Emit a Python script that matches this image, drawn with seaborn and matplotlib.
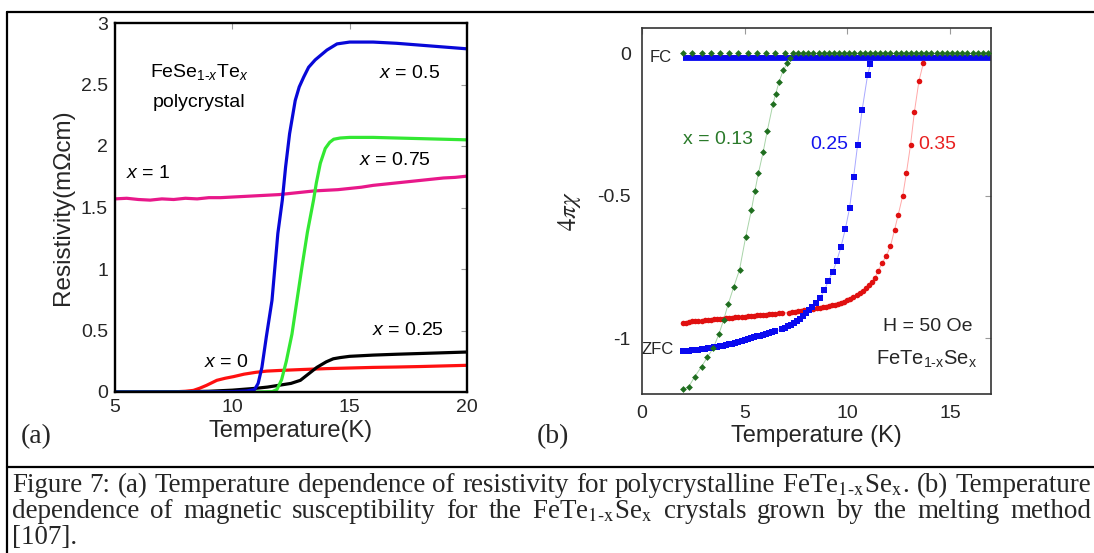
import numpy as np
import pandas as pd
import matplotlib
matplotlib.use("Agg")
import matplotlib.pyplot as plt
from matplotlib.lines import Line2D
import seaborn as sns

# ---------------- Panel (a): resistivity of FeSe1-xTex polycrystals ----------------
a_T_x05 = [5, 8, 10, 10.6, 10.95, 11.1, 11.26, 11.45, 11.69, 11.94, 12.13, 12.27, 12.44, 12.68,
           12.85, 13.04, 13.25, 13.53, 14.03, 14.46, 15, 16, 17, 18, 19, 20]
a_R_x05 = [0, 0, 0.003, 0.008, 0.02, 0.07, 0.2, 0.45, 0.745, 1.29, 1.56, 1.83, 2.1, 2.37,
           2.48, 2.56, 2.64, 2.70, 2.78, 2.83, 2.845, 2.845, 2.835, 2.82, 2.805, 2.79]

a_T_x075 = [5, 8, 11, 11.7, 11.9, 12.1, 12.3, 12.54, 12.75, 12.97, 13.2, 13.46, 13.58, 13.75,
            13.96, 14.15, 14.32, 14.6, 15, 16, 17, 18, 19, 20]
a_R_x075 = [0, 0, 0, 0.003, 0.02, 0.1, 0.25, 0.47, 0.74, 1.02, 1.3, 1.56, 1.7, 1.86,
            1.98, 2.03, 2.055, 2.065, 2.07, 2.07, 2.065, 2.06, 2.055, 2.05]

a_T_x1 = [5, 5.5, 6, 6.5, 7, 7.5, 8, 8.5, 9, 9.5, 10, 10.5, 11, 11.5, 12, 12.5, 13, 13.5,
          14, 14.5, 15, 15.5, 16, 16.5, 17, 17.5, 18, 18.5, 19, 19.5, 20]
a_R_x1 = [1.57, 1.575, 1.565, 1.56, 1.57, 1.565, 1.575, 1.57, 1.58, 1.58, 1.585, 1.59, 1.595,
          1.6, 1.605, 1.615, 1.625, 1.635, 1.64, 1.645, 1.655, 1.665, 1.68, 1.69, 1.7, 1.71,
          1.72, 1.73, 1.74, 1.745, 1.755]

a_T_x0 = [5, 7, 7.6, 8.0, 8.34, 8.6, 8.9, 9.34, 9.7, 10.05, 10.5, 11, 11.47, 12, 13, 14, 15,
          16, 17, 18, 19, 20]
a_R_x0 = [0, 0, 0.002, 0.006, 0.013, 0.03, 0.054, 0.095, 0.112, 0.125, 0.145, 0.16, 0.17,
          0.175, 0.183, 0.19, 0.195, 0.2, 0.203, 0.207, 0.212, 0.217]

a_T_x025 = [5, 8, 9, 10, 11, 11.5, 12, 12.5, 12.9, 13.2, 13.6, 14.0, 14.3, 14.6, 15, 16, 17,
            18, 19, 20]
a_R_x025 = [0, 0.002, 0.006, 0.015, 0.03, 0.04, 0.055, 0.07, 0.095, 0.14, 0.2, 0.245, 0.27,
            0.28, 0.29, 0.3, 0.307, 0.313, 0.319, 0.325]

a_xticks = [5, 10, 15, 20]
a_yticks = [0, 0.5, 1, 1.5, 2, 2.5, 3]
a_yticklabels = ["0", "0.5", "1", "1.5", "2", "2.5", "3"]

# ---------------- Panel (b): susceptibility of FeTe1-xSex crystals ----------------
b_T_g_zfc = [2.0, 2.28, 2.57, 2.9, 3.18, 3.47, 3.75, 3.98, 4.2, 4.47, 4.75, 5.05, 5.33, 5.5,
             5.67, 5.9, 6.1, 6.38, 6.51, 6.68, 6.89, 7.08, 7.2]
b_C_g_zfc = [-1.18, -1.17, -1.135, -1.10, -1.067, -1.035, -0.985, -0.935, -0.88, -0.82, -0.76,
             -0.645, -0.55, -0.483, -0.421, -0.347, -0.273, -0.178, -0.143, -0.099, -0.058,
             -0.035, -0.018]
b_T_g_fc = [2.0, 2.45, 2.9, 3.35, 3.8, 4.25, 4.7, 5.15, 5.6, 6.05, 6.5, 6.95,
            7.35, 7.6, 7.85, 8.1, 8.35, 8.6, 8.85, 9.1, 9.35, 9.6, 9.85, 10.1, 10.35, 10.6,
            10.85, 11.1, 11.35, 11.6, 11.85, 12.1, 12.35, 12.6, 12.85, 13.1, 13.35, 13.6,
            13.85, 14.1, 14.35, 14.6, 14.85, 15.1, 15.35, 15.6, 15.85, 16.1, 16.35, 16.6, 16.85]
b_C_g_fc = [0.0, 0.0, 0.0, 0.0, 0.0, 0.0, 0.0, 0.0, 0.0, 0.0, 0.0, 0.0,
            0.0, 0.0, 0.0, 0.0, 0.0, 0.0, 0.0, 0.0, 0.0, 0.0, 0.0, 0.0, 0.0, 0.0,
            0.0, 0.0, 0.0, 0.0, 0.0, 0.0, 0.0, 0.0, 0.0, 0.0, 0.0, 0.0,
            0.0, 0.0, 0.0, 0.0, 0.0, 0.0, 0.0, 0.0, 0.0, 0.0, 0.0, 0.0, 0.0]

b_T_b_zfc = [2.0, 2.15, 2.3, 2.45, 2.6, 2.75, 2.9, 3.05, 3.2, 3.35, 3.5, 3.65, 3.8, 3.95, 4.1,
             4.25, 4.4, 4.55, 4.7, 4.85, 5.0, 5.15, 5.3, 5.45, 5.6, 5.75, 5.9, 6.05, 6.2, 6.35,
             6.5, 6.8, 6.95, 7.1, 7.25, 7.4, 7.55, 7.7, 7.85, 8.0, 8.15, 8.3, 8.47, 8.68, 8.88,
             9.07, 9.3, 9.48, 9.69, 9.9, 10.11, 10.31, 10.5, 10.72, 10.99, 11.12]
b_C_b_zfc = [-1.045, -1.045, -1.044, -1.043, -1.042, -1.041, -1.039, -1.038, -1.036, -1.034,
             -1.032, -1.030, -1.028, -1.026, -1.024, -1.021, -1.019, -1.016, -1.013, -1.010,
             -1.006, -1.003, -1.000, -0.997, -0.994, -0.991, -0.988, -0.985, -0.982, -0.979,
             -0.975, -0.968, -0.964, -0.959, -0.953, -0.946, -0.939, -0.931, -0.922, -0.912,
             -0.902, -0.89, -0.876, -0.858, -0.832, -0.80, -0.766, -0.73, -0.68, -0.618,
             -0.544, -0.433, -0.323, -0.2, -0.076, -0.039]
b_T_b_fc = [2.0, 17.0]
b_C_b_fc = [-0.015, -0.015]

b_T_r_zfc = [2.0, 2.15, 2.3, 2.45, 2.6, 2.75, 2.9, 3.05, 3.2, 3.35, 3.5, 3.65, 3.8, 3.95, 4.1,
             4.25, 4.4, 4.55, 4.7, 4.85, 5.0, 5.15, 5.3, 5.45, 5.6, 5.75, 5.9, 6.05, 6.2, 6.35,
             6.5, 6.65, 6.8, 7.15, 7.3, 7.45, 7.6, 7.75, 7.9, 8.05, 8.2, 8.35, 8.5, 8.65, 8.8,
             8.95, 9.1, 9.25, 9.4, 9.55, 9.7, 9.85, 10.0, 10.15, 10.3, 10.45, 10.6, 10.75,
             10.9, 11.05, 11.2, 11.35, 11.5, 11.69, 11.9, 12.1, 12.3, 12.48, 12.7, 12.88,
             13.08, 13.27, 13.49, 13.71]
b_C_r_zfc = [-0.947, -0.945, -0.943, -0.941, -0.940, -0.939, -0.938, -0.937, -0.936, -0.935,
             -0.934, -0.933, -0.932, -0.931, -0.930, -0.929, -0.928, -0.927, -0.926, -0.925,
             -0.924, -0.923, -0.922, -0.921, -0.920, -0.919, -0.918, -0.917, -0.916, -0.915,
             -0.914, -0.913, -0.912,
             -0.910, -0.909, -0.908, -0.906, -0.904, -0.902, -0.900, -0.899, -0.897, -0.895,
             -0.893, -0.891, -0.889, -0.887, -0.885, -0.882, -0.879, -0.876, -0.872, -0.867,
             -0.862, -0.856, -0.849, -0.841, -0.833, -0.824, -0.814, -0.802, -0.788, -0.765,
             -0.737, -0.711, -0.678, -0.62, -0.567, -0.50, -0.42, -0.322, -0.205, -0.097,
             -0.033]
b_T_r_fc = [2.0, 17.0]
b_C_r_fc = [-0.013, -0.013]

b_xticks = [0, 5, 10, 15]
b_yticks = [0, -0.5, -1]
b_yticklabels = ["0", "-0.5", "-1"]

caption_lines = [
    ["Figure", "7:", "(a)", "Temperature", "dependence", "of", "resistivity", "for",
     "polycrystalline", r"FeTe$_{\mathrm{1\text{-}x}}$Se$_{\mathrm{x}}$.", "(b)", "Temperature"],
    ["dependence", "of", "magnetic", "susceptibility", "for", "the",
     r"FeTe$_{\mathrm{1\text{-}x}}$Se$_{\mathrm{x}}$", "crystals", "grown", "by", "the",
     "melting", "method"],
    ["[107]."],
]

# ---------------- style ----------------
sns.set_style("white")
plt.rcParams['font.family'] = ['Liberation Sans', 'DejaVu Sans']
plt.rcParams['mathtext.fontset'] = 'custom'
plt.rcParams['mathtext.rm'] = 'Liberation Sans'
plt.rcParams['mathtext.it'] = 'Liberation Sans:italic'
plt.rcParams['mathtext.bf'] = 'Liberation Sans:bold'
plt.rcParams['axes.unicode_minus'] = False

W, H = 1094, 553
fig = plt.figure(figsize=(W / 100, H / 100), dpi=100)
fig.patch.set_facecolor("white")

axA = fig.add_axes([115 / W, 1 - 392 / H, (467 - 115) / W, (392 - 23) / H])
axB = fig.add_axes([642 / W, 1 - 394 / H, (991 - 642) / W, (394 - 28) / H])

# ---------------- panel (a) ----------------
a_series = [
    (a_T_x1, a_R_x1, "#e8188a"),
    (a_T_x0, a_R_x0, "#ff1010"),
    (a_T_x025, a_R_x025, "#000000"),
    (a_T_x075, a_R_x075, "#33e833"),
    (a_T_x05, a_R_x05, "#0808d8"),
]
for T, R, c in a_series:
    sns.lineplot(x=T, y=R, ax=axA, color=c, lw=2.3, sort=False, estimator=None)

axA.set_xlim(5, 20)
axA.set_ylim(0, 3)
axA.set_xticks(a_xticks)
axA.set_xticklabels([str(t) for t in a_xticks])
axA.set_yticks(a_yticks)
axA.set_yticklabels(a_yticklabels)
axA.tick_params(direction='in', top=True, right=True, length=4, width=0.8,
                color='#9a9a9a', labelsize=14, pad=5)
for s in axA.spines.values():
    s.set_color('black')
    s.set_linewidth(1.7)
axA.set_xlabel("Temperature(K)", fontsize=17, labelpad=3)
axA.set_ylabel("Resistivity(m\u03a9cm)", fontsize=17.5, labelpad=5)

ta = dict(fontsize=14, ha='center', va='center', color='black')
axA.text(8.58, 2.60, r"FeSe$_{1\text{-}x}$Te$_{x}$", **ta)
axA.text(8.58, 2.35, "polycrystal", **ta)
axA.text(17.53, 2.59, r"$x$ = 0.5", **ta)
axA.text(16.93, 1.88, r"$x$ = 0.75", **ta)
axA.text(6.42, 1.78, r"$x$ = 1", **ta)
axA.text(17.5, 0.50, r"$x$ = 0.25", **ta)
axA.text(9.75, 0.24, r"$x$ = 0", **ta)

# ---------------- panel (b) ----------------
sns.lineplot(x=b_T_r_fc, y=b_C_r_fc, ax=axB, color="#e01010", lw=3.5, sort=False,
             estimator=None, solid_capstyle='butt')
sns.lineplot(x=b_T_b_fc, y=b_C_b_fc, ax=axB, color="#0a0af0", lw=4.2, sort=False,
             estimator=None, solid_capstyle='butt')

sns.lineplot(x=b_T_g_zfc, y=b_C_g_zfc, ax=axB, color="#a8d4a8", lw=0.7, sort=False, estimator=None)
sns.lineplot(x=b_T_b_zfc, y=b_C_b_zfc, ax=axB, color="#a8a8ff", lw=0.7, sort=False, estimator=None)
sns.lineplot(x=b_T_r_zfc, y=b_C_r_zfc, ax=axB, color="#ffa8a8", lw=0.7, sort=False, estimator=None)

sns.scatterplot(x=b_T_r_zfc, y=b_C_r_zfc, ax=axB, color="#e01010", marker='o', s=16,
                linewidth=0, zorder=3)
sns.scatterplot(x=b_T_b_zfc, y=b_C_b_zfc, ax=axB, color="#0a0af0", marker='s', s=22,
                linewidth=0, zorder=4)
sns.scatterplot(x=b_T_g_zfc, y=b_C_g_zfc, ax=axB, color="#1f6e1f", marker='D', s=12,
                linewidth=0, zorder=5)
sns.scatterplot(x=b_T_g_fc, y=b_C_g_fc, ax=axB, color="#1f6e1f", marker='D', s=12,
                linewidth=0, zorder=5)

axB.set_xlim(0, 17)
axB.set_ylim(-1.196, 0.089)
axB.set_xticks(b_xticks)
axB.set_xticklabels([str(t) for t in b_xticks])
axB.set_yticks(b_yticks)
axB.set_yticklabels(b_yticklabels)
axB.tick_params(direction='in', top=True, right=True, length=4, width=0.8,
                color='#9a9a9a', labelsize=14, pad=8)
for s in axB.spines.values():
    s.set_color('#333333')
    s.set_linewidth(1.2)
axB.set_xlabel("Temperature (K)", fontsize=17, labelpad=2)
axB.set_ylabel(r"$4\pi\chi$", fontsize=18, labelpad=10, math_fontfamily='stix')

axB.text(0.93, -0.013, "FC", fontsize=12, ha='center', va='center')
axB.text(0.78, -1.04, "ZFC", fontsize=12, ha='center', va='center')
axB.text(3.7, -0.304, "x = 0.13", fontsize=14, ha='center', va='center', color="#2a7a2a")
axB.text(9.1, -0.32, "0.25", fontsize=14, ha='center', va='center', color="#1414ee")
axB.text(14.37, -0.32, "0.35", fontsize=14, ha='center', va='center', color="#e82020")
axB.text(13.9, -0.96, "H = 50 Oe", fontsize=14, ha='center', va='center')
axB.text(13.85, -1.075, r"FeTe$_{\mathrm{1\text{-}x}}$Se$_{\mathrm{x}}$", fontsize=14.5,
         ha='center', va='center')

# ---------------- panel letters ----------------
fig.text(21 / W, 1 - 437 / H, "(a)", fontsize=20, family='Liberation Serif', va='center', ha='left')
fig.text(537 / W, 1 - 437 / H, "(b)", fontsize=20, family='Liberation Serif', va='center', ha='left')

# ---------------- frame lines ----------------
lw_frame = 1.6
fig.add_artist(Line2D([7 / W, 1.0], [1 - 12 / H, 1 - 12 / H], color='black', lw=lw_frame, zorder=10))
fig.add_artist(Line2D([7 / W, 7 / W], [1 - 12 / H, 0.0], color='black', lw=lw_frame, zorder=10))
fig.add_artist(Line2D([7 / W, 1.0], [1 - 467 / H, 1 - 467 / H], color='black', lw=lw_frame, zorder=10))

# ---------------- caption (justified) ----------------
renderer = fig.canvas.get_renderer()
x_left, x_right = 12, 1091
baselines = [492, 518, 544]


def make_words(tokens, size):
    objs = [fig.text(0, 0, t, fontsize=size, family='Liberation Serif', math_fontfamily='stix',
                     ha='left', va='baseline') for t in tokens]
    widths = [o.get_window_extent(renderer).width for o in objs]
    return objs, widths


# fit font size so that the first line fills the width with normal word spacing
size0 = 17.0
objs, widths = make_words(caption_lines[0], size0)
space0 = 0.25 * size0 * 100 / 72
n0 = len(widths)
size = size0 * (x_right - x_left) / (sum(widths) + (n0 - 1) * space0)
for o in objs:
    o.remove()

for i, tokens in enumerate(caption_lines):
    objs, widths = make_words(tokens, size)
    n = len(tokens)
    if i < 2 and n > 1:
        gap = (x_right - x_left - sum(widths)) / (n - 1)
    else:
        gap = 0.25 * size * 100 / 72
    x = x_left
    for o, w in zip(objs, widths):
        o.set_position((x / W, 1 - baselines[i] / H))
        x += w + gap

fig.savefig("out.png", dpi=100, facecolor="white")
